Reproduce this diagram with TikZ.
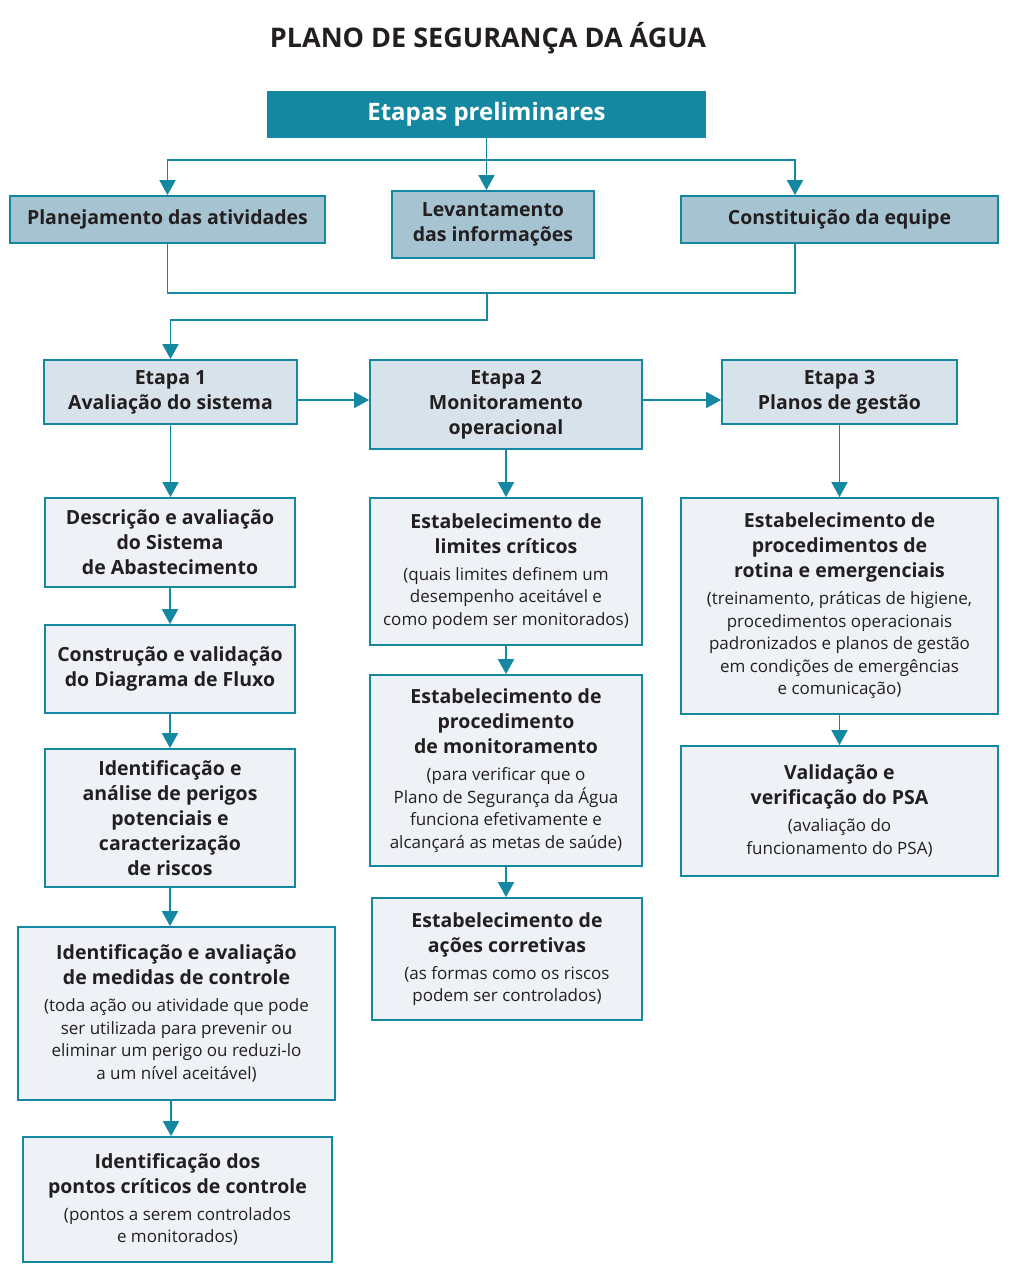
\documentclass[tikz,border=0pt]{standalone}
\usepackage{fontspec}
\setmainfont{Open Sans}
\usetikzlibrary{arrows.meta,positioning,calc}
\definecolor{psateal}{RGB}{20,136,160}
\definecolor{psagray}{RGB}{166,195,210}
\definecolor{psastage}{RGB}{216,226,234}
\definecolor{psalight}{RGB}{238,242,246}
\definecolor{psatext}{RGB}{35,31,32}
\tikzset{>={Triangle[width=16pt,length=15pt]}}
\tikzset{
  box/.style={draw=psateal,line width=1.8pt,align=center,inner sep=2pt,
              text=psatext,font=\fontsize{19.5}{25}\selectfont\bfseries},
  size/.style 2 args={minimum width=#1,minimum height=#2},
  prelim/.style={box,fill=psagray},
  stage/.style={box,fill=psastage},
  task/.style={box,fill=psalight},
  link/.style={psateal,line width=1.8pt},
}
\newcommand\sm{\fontsize{17}{22.5}\selectfont\mdseries}
\newcommand\nl{\\[-2.5pt]\sm}

\begin{document}
\begin{tikzpicture}[x=1pt,y=-1pt]
  \useasboundingbox (0,0) rectangle (1024,1280);

  % TITLE
  \node[font=\fontsize{27}{30}\selectfont\bfseries,text=psatext] (title) at (488,38) {PLANO DE SEGURANÇA DA ÁGUA};

  % PRELIMINARY STEPS
  \node[box,fill=psateal,text=white,size={437pt}{45pt},font=\fontsize{24}{28}\selectfont\bfseries] (top) at (486.5,114.5) {Etapas preliminares};
  \node[prelim,size={315pt}{47pt}] (plan) at (167.5,219.5) {Planejamento das atividades};
  \node[prelim,size={202pt}{67pt}] (lev) at (493,224.5) {Levantamento\\das informações};
  \node[prelim,size={317pt}{47pt}] (const) at (839.5,219.5) {Constituição da equipe};

  % STAGES
  \node[stage,size={253pt}{64pt}] (e1) at (170.5,392) {Etapa 1\\Avaliação do sistema};
  \node[stage,size={272pt}{89pt}] (e2) at (506,404.5) {Etapa 2\\Monitoramento\\operacional};
  \node[stage,size={235pt}{64pt}] (e3) at (839.5,392) {Etapa 3\\Planos de gestão};

  % STAGE 1
  \node[task,size={250pt}{89pt}] (d1) at (170,542.5) {Descrição e avaliação\\do Sistema\\de Abastecimento};
  \node[task,size={250pt}{88pt}] (d2) at (170,669) {Construção e validação\\do Diagrama de Fluxo};
  \node[task,size={250pt}{138pt}] (d3) at (170,818) {Identificação e\\análise de perigos\\potenciais e\\caracterização\\de riscos};
  \node[task,size={317pt}{173pt}] (d4) at (176.5,1013.5) {Identificação e avaliação\\de medidas de controle\\[2pt]
    \sm (toda ação ou atividade que pode\nl ser utilizada para prevenir ou\nl eliminar um perigo ou reduzi-lo\nl a um nível aceitável)};
  \node[task,size={309pt}{125pt}] (d5) at (177.5,1199.5) {Identificação dos\\pontos críticos de controle\\[2pt]
    \sm (pontos a serem controlados\nl e monitorados)};

  % STAGE 2
  \node[task,size={272pt}{147pt}] (m1) at (506,571.5) {Estabelecimento de\\limites críticos\\[2pt]
    \sm (quais limites definem um\nl desempenho aceitável e\nl como podem ser monitorados)};
  \node[task,size={272pt}{191pt}] (m2) at (506,770.5) {Estabelecimento de\\procedimento\\de monitoramento\\[2pt]
    \sm (para verificar que o\nl Plano de Segurança da Água\nl funciona efetivamente e\nl alcançará as metas de saúde)};
  \node[task,size={270pt}{122pt}] (m3) at (507,959) {Estabelecimento de\\ações corretivas\\[2pt]
    \sm (as formas como os riscos\nl podem ser controlados)};

  % STAGE 3
  \node[task,size={317pt}{216pt}] (p1) at (839.5,606) {Estabelecimento de\\procedimentos de\\rotina e emergenciais\\[2pt]
    \sm (treinamento, práticas de higiene,\nl procedimentos operacionais\nl padronizados e planos de gestão\nl em condições de emergências\nl e comunicação)};
  \node[task,size={317pt}{130pt}] (p2) at (839.5,811) {Validação e\\verificação do PSA\\[2pt]
    \sm (avaliação do\nl funcionamento do PSA)};

  % LINKS
  \coordinate (split) at (486.5,160);
  \coordinate (join) at (487,293);
  \coordinate (ctop) at ([xshift=-44.5pt]const.north);
  \coordinate (cbot) at ([xshift=-44.5pt]const.south);
  \draw[link] (top.south) -- (split);
  \draw[link,->] (split) -- (split |- lev.north);
  \draw[link,->] (split) -| (plan.north);
  \draw[link,->] (split) -| (ctop);
  \draw[link] (plan.south) |- (cbot |- join) -- (cbot);
  \draw[link,->] (join) -- ++(0,27) -| (e1.north);

  \draw[link,->] ([yshift=-8pt]e1.east) coordinate (a12) -- (a12 -| e2.west);
  \draw[link,->] ([yshift=4.5pt]e2.east) coordinate (a23) -- (a23 -| e3.west);

  \foreach \a/\b in {e1/d1,d1/d2,d2/d3,d3/d4,e2/m1,m1/m2,m2/m3,e3/p1,p1/p2}
    \draw[link,->] (\a.south) -- (\a.south |- \b.north);
  \draw[link,->] ([xshift=-5.5pt]d4.south) coordinate (a45) -- (a45 |- d5.north);
\end{tikzpicture}
\end{document}
